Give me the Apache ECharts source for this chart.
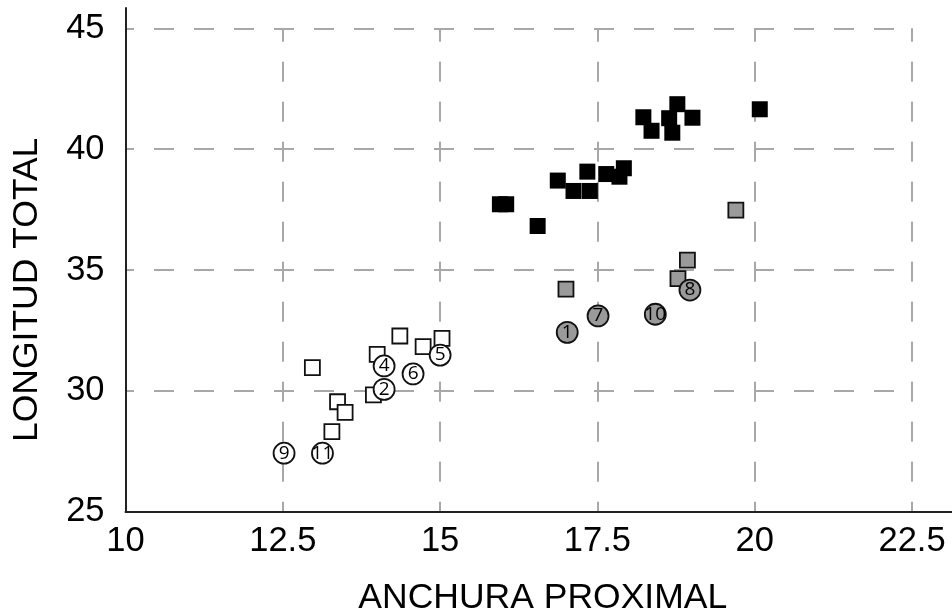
<!DOCTYPE html>
<html>
<head>
<meta charset="utf-8">
<script src="https://cdn.jsdelivr.net/npm/echarts@6/dist/echarts.min.js"></script>
<style>
  html, body { margin: 0; padding: 0; background: #fff; }
  #container { width: 952px; height: 612px; }
</style>
</head>
<body>
<div id="container"></div>
<script>
// tick values used for the dashed grid
var xTicks = [12.5, 15, 17.5, 20, 22.5];
var yTicks = [30, 35, 40, 45];

// open squares
var openSquareX = [12.97, 13.37, 13.49, 13.28, 13.94, 14.0, 14.36, 14.73, 15.03];
var openSquareY = [30.96, 29.55, 29.11, 28.31, 29.83, 31.51, 32.27, 31.83, 32.17];

// open numbered circles
var openCircleIds = ['9', '11', '2', '4', '6', '5'];
var openCircleX = [12.52, 13.13, 14.11, 14.11, 14.57, 15.0];
var openCircleY = [27.42, 27.42, 30.06, 31.03, 30.70, 31.48];

// grey squares
var greySquareX = [17.0, 18.78, 18.93, 19.70];
var greySquareY = [34.21, 34.64, 35.41, 37.48];

// grey numbered circles
var greyCircleIds = ['1', '7', '10', '8'];
var greyCircleX = [17.02, 17.51, 18.42, 18.97];
var greyCircleY = [32.42, 33.10, 33.17, 34.17];

// black squares
var blackX = [15.95, 16.05, 16.55, 16.87, 17.12, 17.34, 17.38, 17.64, 17.85, 17.92,
              18.23, 18.36, 18.64, 18.77, 18.69, 19.01, 20.08];
var blackY = [37.72, 37.72, 36.82, 38.70, 38.27, 39.07, 38.27, 38.97, 38.86, 39.21,
              41.32, 40.76, 41.28, 41.86, 40.68, 41.30, 41.65];

function pairs(xs, ys, ids) {
    return xs.map(function (x, i) {
        var item = { value: [x, ys[i]] };
        if (ids) item.name = ids[i];
        return item;
    });
}

var gridLines = [];
xTicks.forEach(function (x) {
    gridLines.push([{ coord: [x, 25], lineStyle: { dashOffset: 10 } }, { coord: [x, 45] }]);
});
yTicks.forEach(function (y) {
    gridLines.push([{ coord: [10, y], lineStyle: { dashOffset: 11.5 } }, { coord: [22.5, y] }]);
});

var font = 'Liberation Sans, Arial, sans-serif';
var numLabel = {
    show: true,
    position: 'inside',
    formatter: '{b}',
    fontFamily: 'Open Sans, sans-serif',
    fontSize: 19,
    color: '#000'
};

var myChart = echarts.init(document.getElementById('container'));
var option = {
    animation: false,
    backgroundColor: '#fff',
    grid: { left: 125.5, right: 0, top: 8, bottom: 100.3, containLabel: false, outerBoundsMode: 'none' },
    xAxis: {
        type: 'value',
        min: 10,
        max: 23.135,
        interval: 2.5,
        name: 'ANCHURA PROXIMAL',
        nameLocation: 'middle',
        nameGap: 69,
        nameTextStyle: { fontFamily: font, fontSize: 35.5, color: '#000', padding: [0, 0, 0, 8] },
        axisLine: { lineStyle: { color: '#222', width: 2 } },
        axisTick: { show: false },
        splitLine: { show: false },
        axisLabel: { showMaxLabel: false, margin: 12, fontFamily: font, fontSize: 34.5, color: '#000' }
    },
    yAxis: {
        type: 'value',
        min: 25,
        max: 45.84,
        interval: 5,
        name: 'LONGITUD TOTAL',
        nameLocation: 'middle',
        nameGap: 80,
        nameTextStyle: { fontFamily: font, fontSize: 35.5, color: '#000', padding: [0, 60, 0, 0] },
        axisLine: { lineStyle: { color: '#222', width: 2 } },
        axisTick: { show: false },
        splitLine: { show: false },
        axisLabel: { showMaxLabel: false, margin: 21, fontFamily: font, fontSize: 34.5, color: '#000' }
    },
    series: [{
        type: 'scatter',
        data: [],
        z: 1,
        silent: true,
        markLine: {
            z: 0,
            silent: true,
            symbol: 'none',
            label: { show: false },
            lineStyle: { color: '#a8a8a8', width: 2, type: [20, 20] },
            data: gridLines
        }
    }, {
        type: 'scatter',
        z: 2,
        data: pairs(blackX, blackY),
        symbol: 'rect',
        symbolSize: 16,
        itemStyle: { color: '#000', opacity: 1 }
    }, {
        type: 'scatter',
        z: 2,
        data: pairs(openSquareX, openSquareY),
        symbol: 'rect',
        symbolSize: 15,
        itemStyle: { color: '#fff', borderColor: '#111', borderWidth: 1.8, opacity: 1 }
    }, {
        type: 'scatter',
        z: 2,
        data: pairs(greySquareX, greySquareY),
        symbol: 'rect',
        symbolSize: 15,
        itemStyle: { color: '#9a9a9a', borderColor: '#111', borderWidth: 1.8, opacity: 1 }
    }, {
        type: 'scatter',
        z: 3,
        data: pairs(openCircleX, openCircleY, openCircleIds),
        symbol: 'circle',
        symbolSize: 21,
        itemStyle: { color: '#fff', borderColor: '#111', borderWidth: 1.8, opacity: 1 },
        label: numLabel
    }, {
        type: 'scatter',
        z: 3,
        data: pairs(greyCircleX, greyCircleY, greyCircleIds),
        symbol: 'circle',
        symbolSize: 21,
        itemStyle: { color: '#9a9a9a', borderColor: '#111', borderWidth: 1.8, opacity: 1 },
        label: numLabel
    }]
};
myChart.setOption(option);
</script>
</body>
</html>
